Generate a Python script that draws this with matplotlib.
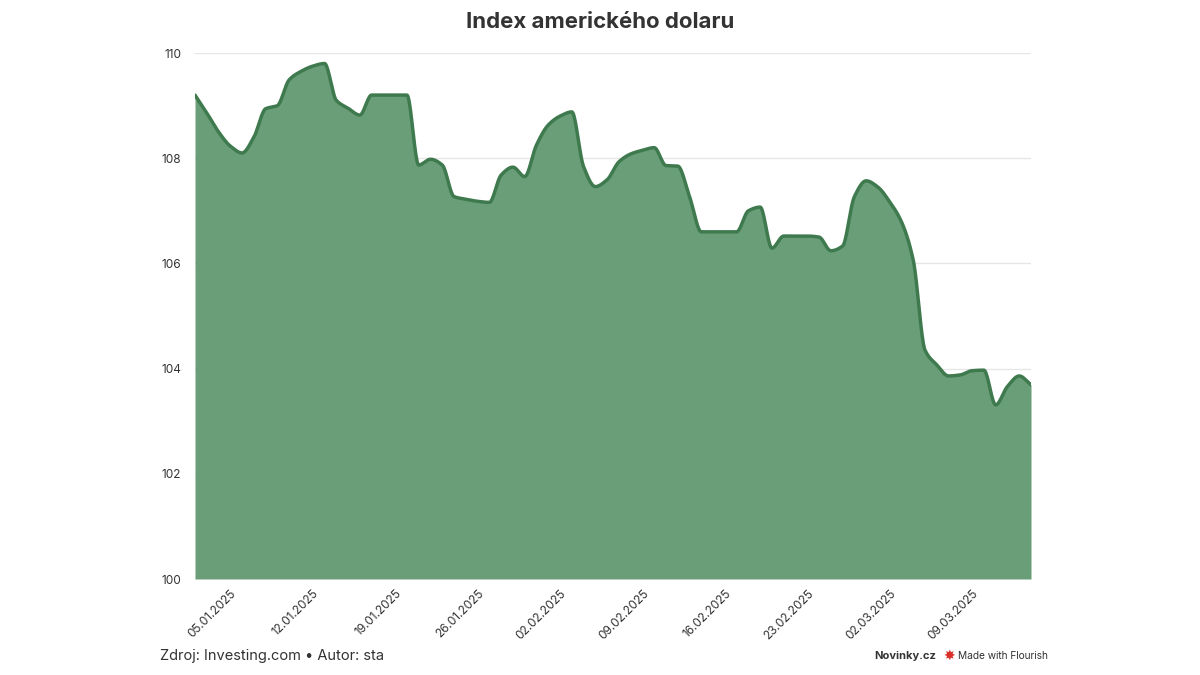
import numpy as np
import matplotlib
matplotlib.use("Agg")
import matplotlib.pyplot as plt
import matplotlib.dates as mdates
import datetime as dt

start = dt.date(2025, 1, 2)
values = [109.2, 108.86, 108.5, 108.23, 108.1, 108.4, 108.94, 109.0, 109.49, 109.65,
          109.75, 109.8, 109.1, 108.95, 108.82, 109.2, 109.2, 109.2, 109.2, 107.87,
          107.98, 107.87, 107.27, 107.22, 107.18, 107.16, 107.68, 107.83, 107.65, 108.25,
          108.63, 108.8, 108.88, 107.84, 107.46, 107.59, 107.93, 108.08, 108.15, 108.2,
          107.86, 107.85, 107.27, 106.6, 106.6, 106.6, 106.6, 107.0, 107.07, 106.29,
          106.52, 106.52, 106.52, 106.5, 106.24, 106.33, 107.27, 107.57, 107.45, 107.17,
          106.79, 106.06, 104.35, 104.07, 103.86, 103.88, 103.96, 103.97, 103.31, 103.66,
          103.86, 103.69]
dates = [start + dt.timedelta(days=i) for i in range(len(values))]
tick_labels = ["05.01.2025", "12.01.2025", "19.01.2025", "26.01.2025", "02.02.2025",
               "09.02.2025", "16.02.2025", "23.02.2025", "02.03.2025", "09.03.2025"]
y_ticks = [100, 102, 104, 106, 108, 110]

def monotone(x, y, n=20):
    x = np.asarray(x, float); y = np.asarray(y, float)
    h = np.diff(x); d = np.diff(y) / h
    m = np.zeros_like(y)
    m[0], m[-1] = d[0], d[-1]
    for i in range(1, len(y) - 1):
        if d[i-1] * d[i] <= 0:
            m[i] = 0
        else:
            w1 = 2*h[i] + h[i-1]; w2 = h[i] + 2*h[i-1]
            m[i] = (w1 + w2) / (w1/d[i-1] + w2/d[i])
    xs, ys = [], []
    for i in range(len(h)):
        t = np.linspace(0, 1, n, endpoint=False)
        h00 = 2*t**3 - 3*t**2 + 1; h10 = t**3 - 2*t**2 + t
        h01 = -2*t**3 + 3*t**2; h11 = t**3 - t**2
        xs.append(x[i] + t*h[i])
        ys.append(h00*y[i] + h10*h[i]*m[i] + h01*y[i+1] + h11*h[i]*m[i+1])
    xs.append([x[-1]]); ys.append([y[-1]])
    return np.concatenate(xs), np.concatenate(ys)

xn = mdates.date2num(dates)
xs, ys = monotone(xn, values)

plt.rcParams["font.family"] = "Inter"
fig = plt.figure(figsize=(12, 6.75), dpi=100)
ax = fig.add_axes([195/1200, 1-579/675, (1031-195)/1200, (579-53)/675])
ax.fill_between(xs, ys, 100, color="#6a9e78", lw=0)
ax.plot(xs, ys, color="#3f7a4f", lw=2.5, solid_capstyle="round")
ax.set_xlim(xn[0], xn[-1])
ax.set_ylim(100, 110)
ax.set_yticks(y_ticks)
ax.set_yticklabels([str(v) for v in y_ticks], fontsize=8.5, color="#333333")
ax.grid(axis="y", color="#e6e6e6", lw=1)
ax.set_axisbelow(True)
tpos = [mdates.date2num(dt.datetime.strptime(t, "%d.%m.%Y")) for t in tick_labels]
ax.set_xticks(tpos)
ax.set_xticklabels(tick_labels, rotation=45, ha="right", rotation_mode="anchor",
                   fontsize=8.5, color="#333333")
ax.tick_params(axis="both", length=0, pad=6)
ax.tick_params(axis="y", pad=10)
for s in ax.spines.values():
    s.set_visible(False)

fig.text(0.5, 1-22/675, "Index amerického dolaru", ha="center", va="center",
         fontsize=16, fontweight="bold", color="#333333")
fig.text(160/1200, 1-656/675, "Zdroj: Investing.com • Autor: sta", ha="left",
         va="center", fontsize=10.5, color="#333333")
fig.text(936/1200, 1-656/675, "Novinky.cz", ha="right", va="center",
         fontsize=8, fontweight="bold", color="#333333")
fig.text(949/1200, 1-656/675, "✸", ha="center", va="center", fontsize=10,
         color="#d9312a", family="DejaVu Sans")
fig.text(958/1200, 1-656/675, "Made with Flourish", ha="left", va="center",
         fontsize=7.3, color="#333333")
fig.savefig("out.png", dpi=100, facecolor="white")
